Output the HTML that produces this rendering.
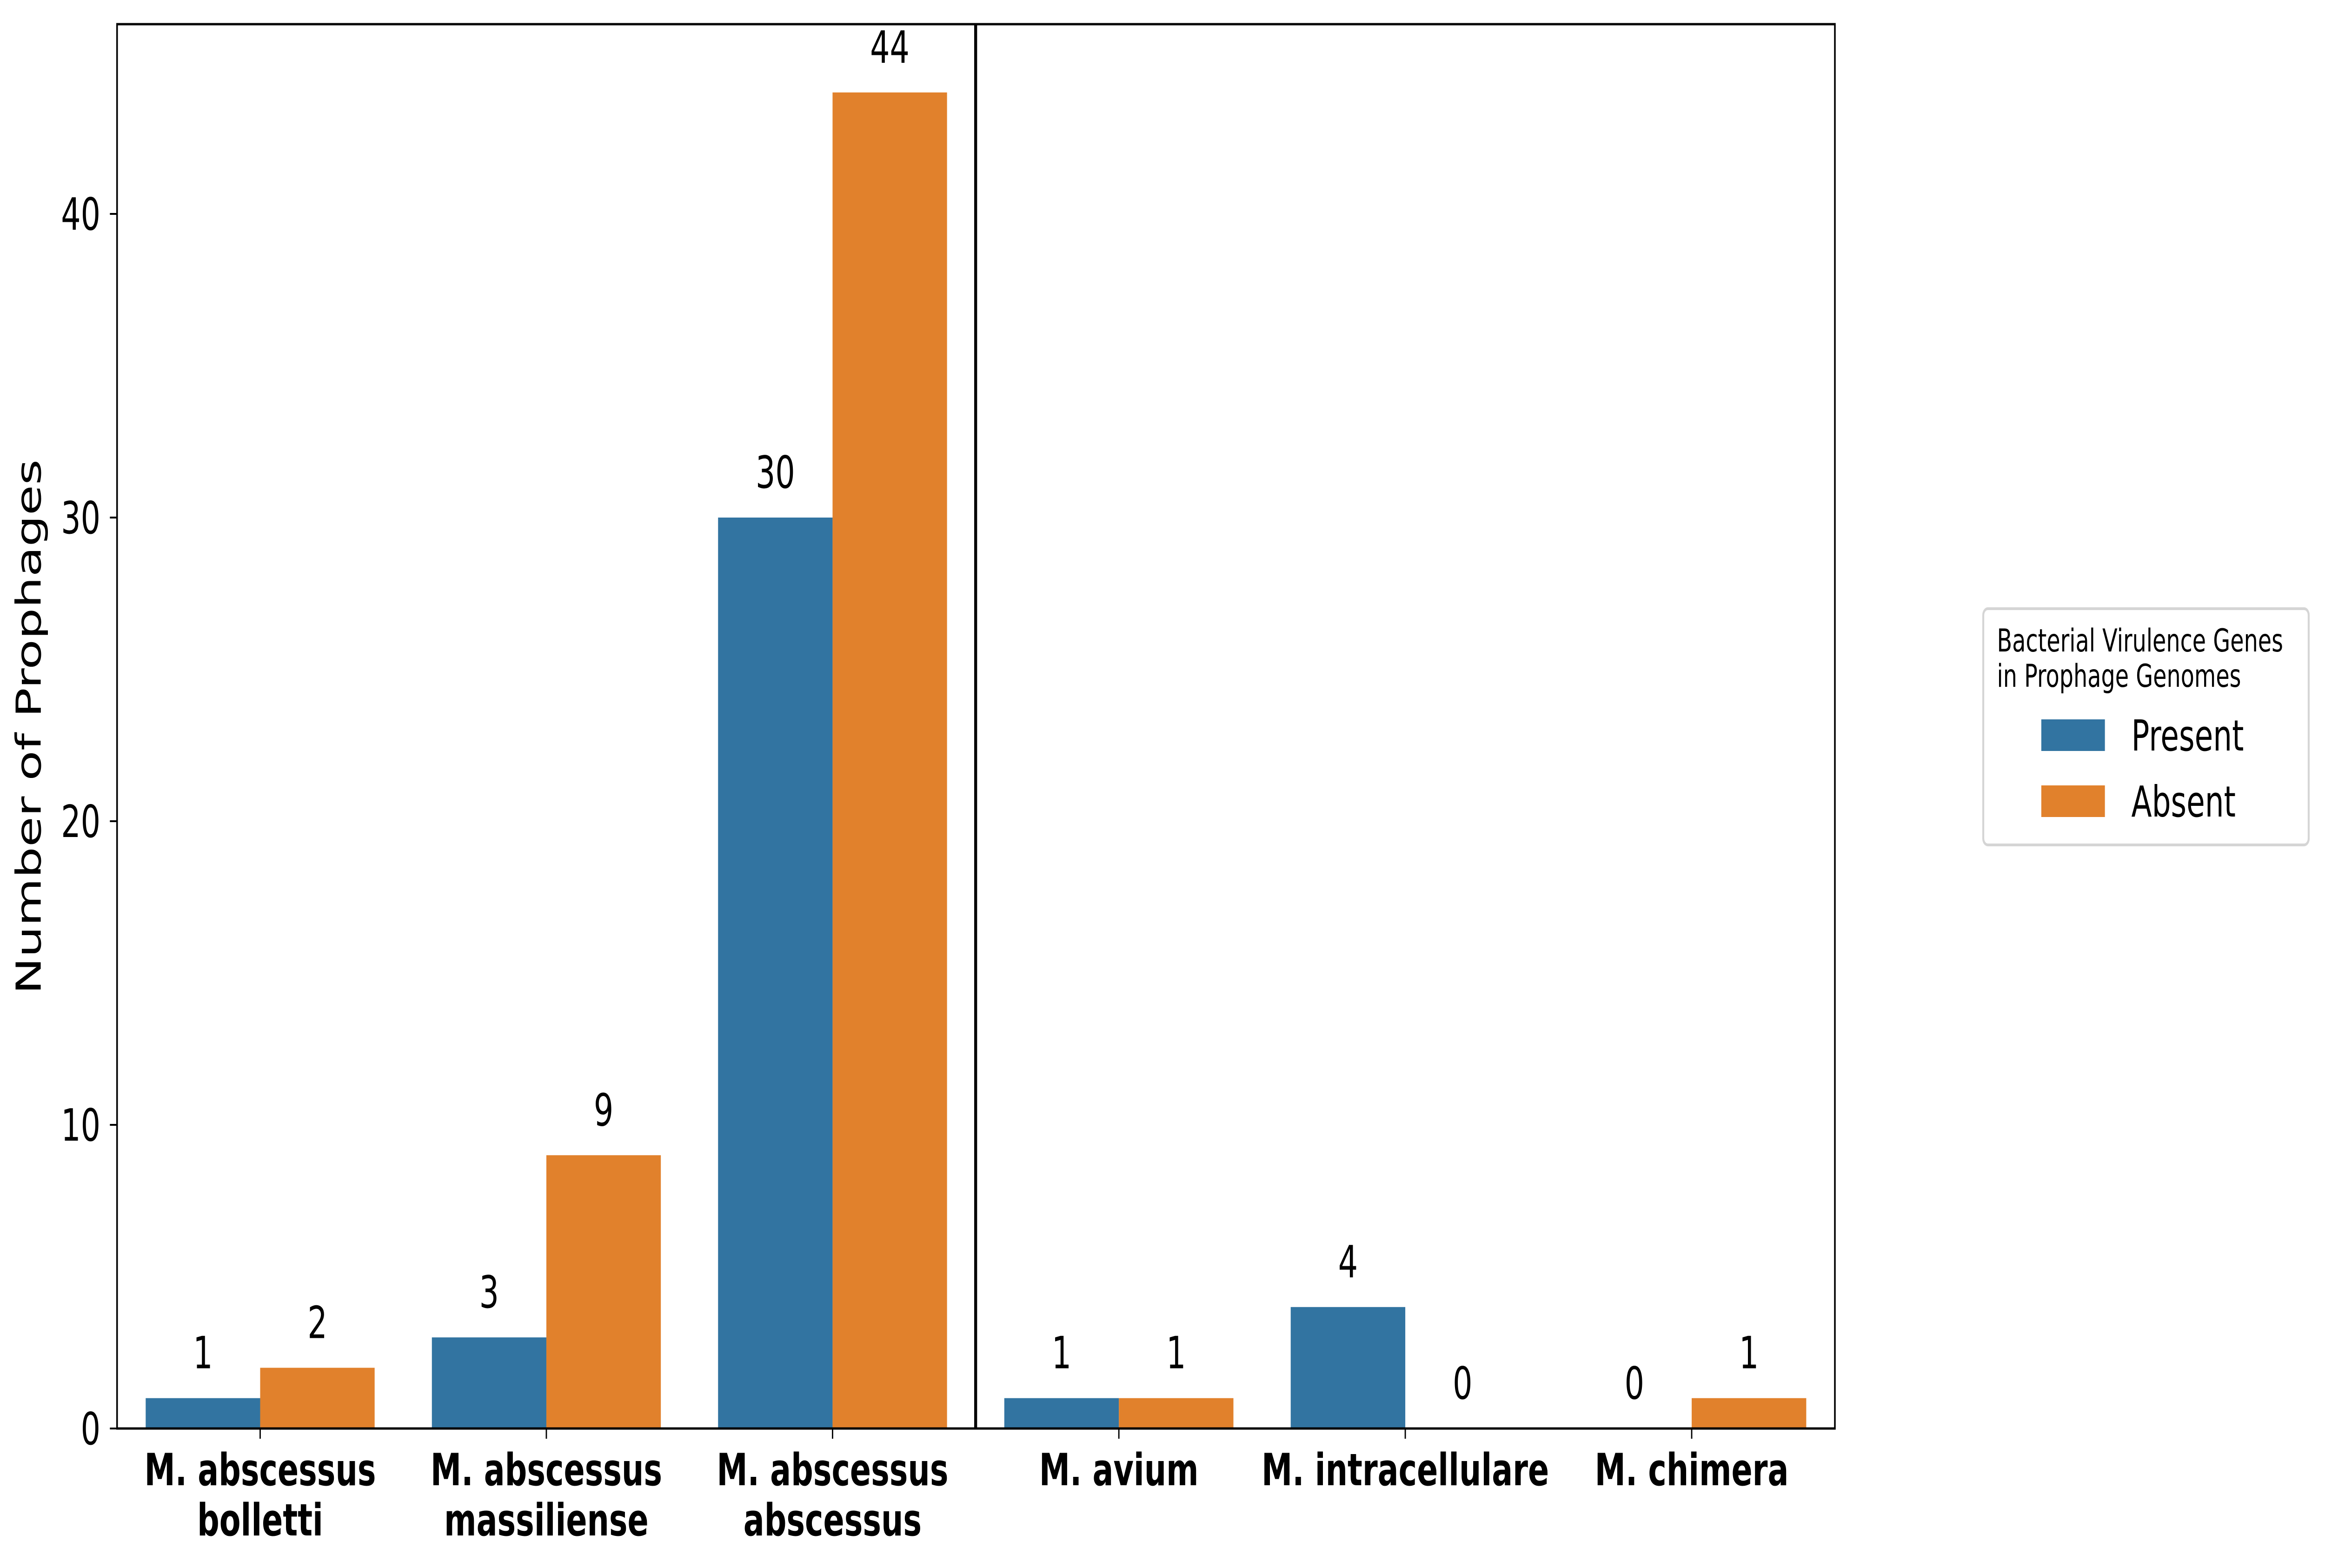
<!DOCTYPE html>
<html><head><meta charset="utf-8"><style>
html,body{margin:0;padding:0;background:#fff;overflow:hidden;width:100%;height:100%;}
svg{display:block;width:100vw;height:100vh;font-family:"DejaVu Sans","Liberation Sans",sans-serif;}
</style></head><body>
<svg id="chart" viewBox="0 0 7130 3372" preserveAspectRatio="none" xmlns="http://www.w3.org/2000/svg">
<rect width="7130" height="3372" fill="#fff"/>
<g id="marks"></g>
<g id="axes"></g>
<text transform="translate(96,1563) rotate(-90)" text-anchor="middle" dominant-baseline="middle" font-size="106">Number of Prophages</text>
<g>
<rect x="6082" y="1309" width="998" height="508" rx="14" fill="#fff" stroke="#d5d5d5" stroke-width="6"/>
<text x="6124" y="1401" font-size="68">Bacterial Virulence Genes</text>
<text x="6124" y="1477" font-size="68">in Prophage Genomes</text>
<rect x="6260" y="1547" width="195" height="68" fill="#3274a1"/>
<text x="6536" y="1614" font-size="92">Present</text>
<rect x="6260" y="1689" width="195" height="68" fill="#e1812c"/>
<text x="6536" y="1756" font-size="92">Absent</text>
</g>
</svg>
<script>
const categoriesLeft = ["M. abscessus|bolletti", "M. abscessus|massiliense", "M. abscessus|abscessus"];
const categoriesRight = ["M. avium", "M. intracellulare", "M. chimera"];
const presentLeft = [1, 3, 30];
const absentLeft = [2, 9, 44];
const presentRight = [1, 4, 0];
const absentRight = [1, 0, 1];
const yTicks = [0, 10, 20, 30, 40];

const NS = "http://www.w3.org/2000/svg";
const Y0 = 3072, PXU = 65.3;
function yScale(v){ return Y0 - v * PXU; }
const TOP = 52;
const panels = [
  {x0: 359, x1: 2992, cats: categoriesLeft, p: presentLeft, a: absentLeft, name: "left"},
  {x0: 2992, x1: 5627, cats: categoriesRight, p: presentRight, a: absentRight, name: "right"}
];
function xScale(panel, i){ const w = (panel.x1 - panel.x0) / panel.cats.length; return panel.x0 + w * (i + 0.5); }
function mk(tag, attrs, parent){ const e = document.createElementNS(NS, tag); for (const k in attrs) e.setAttribute(k, attrs[k]); parent.appendChild(e); return e; }
const marks = document.getElementById('marks');
const axes = document.getElementById('axes');

panels.forEach(panel => {
  const cw = (panel.x1 - panel.x0) / panel.cats.length;
  const bw = cw * 0.4;
  panel.cats.forEach((cat, i) => {
    const cx = xScale(panel, i);
    [[panel.p[i], "#3274a1", cx - bw, "present"], [panel.a[i], "#e1812c", cx, "absent"]].forEach(([v, col, x, s]) => {
      const r = mk('rect', {x: x, y: yScale(v), width: bw, height: Y0 - yScale(v), fill: col}, marks);
      
      
      const t = mk('text', {x: x + bw/2, y: yScale(v) - 64, 'text-anchor': 'middle', 'font-size': 95}, marks);
      
      
      t.textContent = v;
    });
    const tk = mk('line', {x1: cx, x2: cx, y1: Y0, y2: Y0 + 22, stroke: '#000', 'stroke-width': 4}, axes);
    
    
    const lines = cat.split('|');
    lines.forEach((ln, j) => {
      const t = mk('text', {x: cx, y: 3194 + j * 108, 'text-anchor': 'middle', 'font-size': 95, 'font-weight': 'bold'}, axes);
      
      
      t.textContent = ln;
    });
  });
  const fr = mk('rect', {x: panel.x0, y: TOP, width: panel.x1 - panel.x0, height: Y0 - TOP, fill: 'none', stroke: '#000', 'stroke-width': 5}, axes);
  
  
});
const sep = mk('line', {x1: 2992, x2: 2992, y1: TOP, y2: Y0, stroke: '#000', 'stroke-width': 9}, axes);


yTicks.forEach(v => {
  const y = yScale(v);
  const l = mk('line', {x1: 337, x2: 359, y1: y, y2: y, stroke: '#000', 'stroke-width': 4}, axes);
  
  
  const t = mk('text', {x: 308, y: y + 34, 'text-anchor': 'end', 'font-size': 95}, axes);
  
  
  t.textContent = v;
});
</script>
</body></html>
